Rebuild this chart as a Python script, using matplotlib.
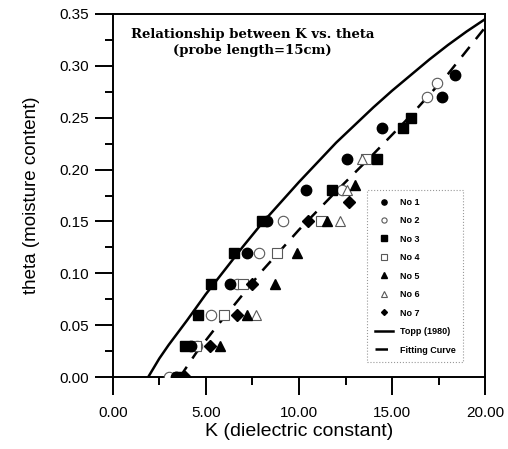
import numpy as np
import matplotlib.pyplot as plt
from matplotlib.ticker import MultipleLocator, FormatStrFormatter

# measured points, one list pair per sample
k1 = [3.4, 4.2, 6.3, 7.2, 8.3, 10.4, 12.6, 14.45, 17.7, 18.4]
t1 = [0.0, 0.03, 0.09, 0.12, 0.15, 0.18, 0.21, 0.24, 0.27, 0.291]
k2 = [3.0, 4.55, 5.3, 6.65, 7.85, 9.15, 12.3, 16.9, 17.4]
t2 = [0.0, 0.03, 0.06, 0.09, 0.12, 0.15, 0.18, 0.27, 0.283]
k3 = [3.6, 3.9, 4.6, 5.3, 6.5, 8.0, 11.8, 14.2, 15.6, 16.0]
t3 = [0.0, 0.03, 0.06, 0.09, 0.12, 0.15, 0.18, 0.21, 0.24, 0.25]
k4 = [3.5, 4.45, 6.0, 7.0, 8.8, 11.2, 13.6]
t4 = [0.0, 0.03, 0.06, 0.09, 0.12, 0.15, 0.21]
k5 = [3.8, 5.75, 7.2, 8.7, 9.9, 11.5, 13.0]
t5 = [0.0, 0.03, 0.06, 0.09, 0.12, 0.15, 0.185]
k6 = [3.7, 7.7, 12.2, 12.6, 13.4]
t6 = [0.0, 0.06, 0.15, 0.18, 0.21]
k7 = [3.9, 5.2, 6.65, 7.5, 10.5, 12.7]
t7 = [0.0, 0.03, 0.06, 0.09, 0.15, 0.169]

# curves
k_topp = [1.9, 2.5, 3, 3.5, 4, 5, 6, 7, 8, 9, 10, 11, 12, 13, 14, 15, 16, 17, 18, 19, 20]
t_topp = [0.0, 0.018, 0.031, 0.043, 0.055, 0.08, 0.103, 0.126, 0.148, 0.168, 0.188,
          0.207, 0.226, 0.243, 0.26, 0.276, 0.291, 0.306, 0.32, 0.333, 0.345]
k_fit = [3.6, 4.5, 5.5, 6.5, 8, 10, 12, 14, 16, 18, 20]
t_fit = [0.0, 0.024, 0.047, 0.069, 0.102, 0.142, 0.179, 0.215, 0.252, 0.292, 0.337]

plt.rcParams['font.family'] = ['Liberation Sans', 'DejaVu Sans']

fig = plt.figure(figsize=(5.08, 4.49), dpi=100)
ax = fig.add_axes([0.222, 0.160, 0.733, 0.809])

ms = 7.5
ax.plot(k1, t1, 'o', color='k', ms=ms, label='No 1', zorder=4)
ax.plot(k2, t2, 'o', mfc='white', mec='0.35', mew=0.8, ms=ms, label='No 2', zorder=3)
ax.plot(k3, t3, 's', color='k', ms=ms, label='No 3', zorder=4)
ax.plot(k4, t4, 's', mfc='white', mec='0.35', mew=0.8, ms=ms, label='No 4', zorder=3)
ax.plot(k5, t5, '^', color='k', ms=ms, label='No 5', zorder=4)
ax.plot(k6, t6, '^', mfc='white', mec='0.35', mew=0.8, ms=ms, label='No 6', zorder=3)
ax.plot(k7, t7, 'D', color='k', ms=6, label='No 7', zorder=4)
ax.plot(k_topp, t_topp, '-', color='k', lw=1.8, label='Topp (1980)', zorder=2)
ax.plot(k_fit, t_fit, '--', color='k', lw=1.8, dashes=(5, 4), label='Fitting Curve', zorder=2)

ax.set_xlim(0, 20)
ax.set_ylim(0, 0.35)
ax.xaxis.set_major_locator(MultipleLocator(5))
ax.xaxis.set_minor_locator(MultipleLocator(2.5))
ax.yaxis.set_major_locator(MultipleLocator(0.05))
ax.yaxis.set_minor_locator(MultipleLocator(0.025))
ax.xaxis.set_major_formatter(FormatStrFormatter('%.2f'))
ax.yaxis.set_major_formatter(FormatStrFormatter('%.2f'))
ax.tick_params(which='major', direction='out', length=13, width=1.4, labelsize=11)
ax.tick_params(axis='x', which='major', pad=8)
ax.tick_params(axis='y', which='major', pad=4)
ax.tick_params(which='minor', direction='out', length=6, width=1.4)
for s in ax.spines.values():
    s.set_linewidth(1.4)

ax.set_xlabel('K (dielectric constant)', fontsize=14, labelpad=2)
ax.set_ylabel('theta (moisture content)', fontsize=13.5, labelpad=14)

ax.text(0.375, 0.92, 'Relationship between K vs. theta\n(probe length=15cm)',
        transform=ax.transAxes, ha='center', va='center', fontsize=9.5,
        fontweight='bold', family='DejaVu Serif', linespacing=1.3)

leg = ax.legend(loc='lower right', bbox_to_anchor=(0.952, 0.03),
                prop={'weight': 'bold', 'size': 6.5}, markerscale=0.5,
                handlelength=2.0, labelspacing=1.05, borderpad=0.8,
                frameon=True, fancybox=False, edgecolor='0.5')
leg.get_frame().set_linestyle(':')
leg.get_frame().set_linewidth(0.8)

fig.savefig('out.png', dpi=100)
